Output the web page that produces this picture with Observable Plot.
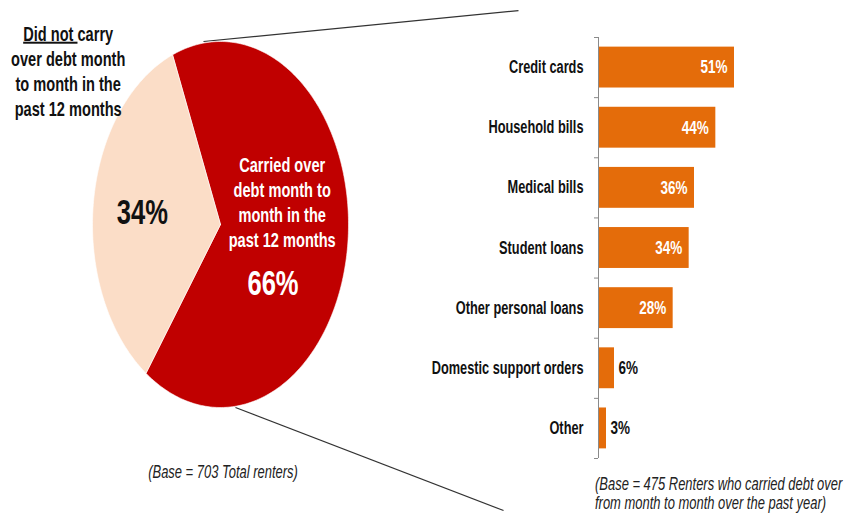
<!DOCTYPE html>
<html>
<head>
<meta charset="utf-8">
<script src="https://cdn.jsdelivr.net/npm/d3@7"></script>
<script src="https://cdn.jsdelivr.net/npm/@observablehq/plot@0.6"></script>
<style>
  html, body { margin: 0; padding: 0; background: white; }
  #wrap { position: relative; width: 848px; height: 518px; overflow: hidden; background: white;
          font-family: 'Liberation Sans', Arial, sans-serif; }
  #pie, #bars { position: absolute; top: 0; }
  #pie { left: 0; }
  #bars { left: 420px; }
  .cap { position: absolute; font-style: italic; font-size: 17.5px; color: #222; white-space: nowrap; }
  #cap1 { left: 223px; top: 462px; line-height: 20px; transform-origin: 50% 0; transform: translateX(-50%) scaleX(0.74); }
  #cap2 { left: 595px; top: 475px; line-height: 19px; transform-origin: 0 0; transform: scaleX(0.74); }
</style>
</head>
<body>
<div id="wrap">
  <div id="pie"></div>
  <div id="bars"></div>
  <div class="cap" id="cap1"></div>
  <div class="cap" id="cap2"></div>
</div>
<script>
// ---------- data ----------
const categories = ["Credit cards", "Household bills", "Medical bills", "Student loans",
                    "Other personal loans", "Domestic support orders", "Other"];
const shares = [51, 44, 36, 34, 28, 6, 3];

const pieNames = ["Carried over", "Did not carry over"];
const pieShares = [66, 34];
const pieTextCarried = ["Carried over", "debt month to", "month in the", "past 12 months"];
const pieTextNot = ["Did not carry", "over debt month", "to month in the", "past 12 months"];

const caption1 = "(Base = 703 Total renters)";
const caption2 = ["(Base = 475 Renters who carried debt over", "from month to month over the past year)"];

// ---------- styles ----------
const FONT = "'Liberation Sans', Arial, sans-serif";
const NARROW = 0.73;
const RED = "#C00000", PEACH = "#FBDDC7", ORANGE = "#E46C0A", INK = "#111";

// condense every SVG text horizontally about its anchor (Arial Narrow look)
function condense(svg) {
  svg.querySelectorAll("text").forEach(el => {
    const xa = el.getAttribute("x");
    const x = (xa && /^-?[\d.]+$/.test(xa)) ? +xa : 0;
    const t = el.getAttribute("transform") || "";
    el.setAttribute("transform", `${t} translate(${x},0) scale(${NARROW},1) translate(${-x},0)`.trim());
  });
}

// ---------- pie (elliptical) ----------
const startDeg = -22;
const arcs = d3.pie().sort(null)
  .startAngle(startDeg * Math.PI / 180)
  .endAngle(startDeg * Math.PI / 180 + 2 * Math.PI)(pieShares);

const slicePts = arcs.flatMap((a, i) => {
  const n = Math.ceil((a.endAngle - a.startAngle) / (Math.PI / 180));
  const pts = [{slice: pieNames[i], x: 0, y: 0}];
  for (let k = 0; k <= n; k++) {
    const ang = a.startAngle + (a.endAngle - a.startAngle) * k / n;
    pts.push({slice: pieNames[i], x: Math.sin(ang), y: Math.cos(ang)});
  }
  pts.push({slice: pieNames[i], x: 0, y: 0});
  return pts;
});

const connectors = [
  {x1: -0.133, y1: 1.0, x2: 2.328, y2: 1.169},
  {x1: 0.117, y1: -1.0, x2: 2.211, y2: -1.563}
];

const piePlot = Plot.plot({
  width: 848, height: 518,
  marginTop: 0, marginRight: 0, marginBottom: 0, marginLeft: 0,
  style: {background: "transparent", fontFamily: FONT, overflow: "visible"},
  x: {domain: [-1, 1], range: [92, 348], axis: null},
  y: {domain: [-1, 1], range: [407, 41], axis: null},
  color: {domain: pieNames, range: [RED, PEACH]},
  marks: [
    Plot.link(connectors, {x1: "x1", y1: "y1", x2: "x2", y2: "y2", stroke: "#333", strokeWidth: 1.2}),
    Plot.line(slicePts, {x: "x", y: "y", z: "slice", fill: "slice", stroke: "white", strokeWidth: 0.6, curve: "linear"}),
    Plot.text([pieShares[1] + "%"], {x: -0.61, y: 0.063, text: d => d, fontSize: 35, fontWeight: "bold", fill: INK}),
    Plot.text([pieShares[0] + "%"], {x: 0.41, y: -0.322, text: d => d, fontSize: 35, fontWeight: "bold", fill: "white"}),
    Plot.text([pieTextCarried.join("\n")], {x: 0.482, y: 0.127, text: d => d, fontSize: 20, fontWeight: "bold", lineHeight: 1.25, fill: "white"}),
    Plot.text([pieTextNot.join("\n")], {x: -1.19, y: 0.844, text: d => d, fontSize: 20, fontWeight: "bold", lineHeight: 1.25, fill: INK})
  ]
});
document.getElementById("pie").appendChild(piePlot);

// underline "Did not"
piePlot.querySelectorAll("tspan").forEach(t => {
  if (t.textContent === pieTextNot[0]) {
    t.textContent = "";
    const u = document.createElementNS("http://www.w3.org/2000/svg", "tspan");
    u.setAttribute("text-decoration", "underline");
    u.textContent = "Did not ";
    t.appendChild(u);
    t.appendChild(document.createTextNode("carry"));
  }
});
condense(piePlot);

// ---------- bars ----------
const bars = categories.map((c, i) => ({category: c, value: shares[i]}));
const BH = 470, MT = 37, MB = 12;
const step = (BH - MT - MB) / categories.length;

const barPlot = Plot.plot({
  width: 428, height: BH,
  marginLeft: 178, marginRight: 90, marginTop: MT, marginBottom: MB,
  style: {background: "transparent", fontFamily: FONT, overflow: "visible"},
  x: {domain: [0, 60], axis: null},
  y: {domain: categories, axis: null, paddingInner: 0.32, paddingOuter: 0.16, round: false},
  marks: [
    Plot.barX(bars, {x: "value", y: "category", fill: ORANGE}),
    Plot.ruleX([0], {stroke: "#8a8a8a", strokeWidth: 1}),
    Plot.ruleY(bars, {y: "category", x1: -1.5, x2: 0, dy: -step / 2, stroke: "#8a8a8a"}),
    Plot.ruleY([bars[bars.length - 1]], {y: "category", x1: -1.5, x2: 0, dy: step / 2, stroke: "#8a8a8a"}),
    Plot.text(bars, {x: 0, y: "category", text: "category", textAnchor: "end", dx: -15,
                     fontSize: 17.5, fontWeight: "bold", fill: INK}),
    Plot.text(bars.filter(d => d.value >= 10), {x: "value", y: "category", text: d => d.value + "%",
                     textAnchor: "end", dx: -7, fontSize: 18.5, fontWeight: "bold", fill: "white"}),
    Plot.text(bars.filter(d => d.value < 10), {x: "value", y: "category", text: d => d.value + "%",
                     textAnchor: "start", dx: 4, fontSize: 18.5, fontWeight: "bold", fill: INK})
  ]
});
condense(barPlot);
document.getElementById("bars").appendChild(barPlot);

// ---------- captions ----------
document.getElementById("cap1").textContent = caption1;
document.getElementById("cap2").innerHTML = caption2.join("<br>");
</script>
</body>
</html>
